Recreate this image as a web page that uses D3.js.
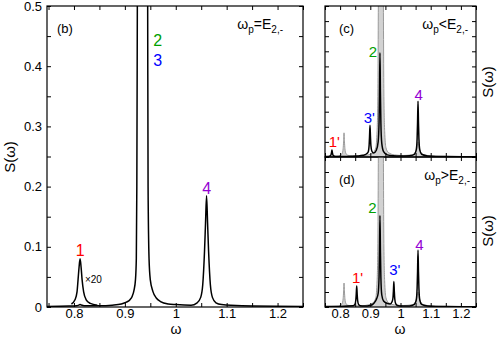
<!DOCTYPE html>
<html>
<head>
<meta charset="utf-8">
<script src="https://cdn.jsdelivr.net/npm/d3@7"></script>
<style>
  body { margin: 0; background: #fff; }
  text { font-family: "Liberation Sans", Arial, sans-serif; }
</style>
</head>
<body>
<div id="chart-area"></div>
<script>
// spectra: [omega, S]
var bMain = [[0.747,0.001],[0.79,0.0015],[0.805,0.002],[0.8105,0.0035],[0.812,0.004],[0.8135,0.0035],
  [0.82,0.002],[0.85,0.002],[0.875,0.003],[0.893,0.005],[0.903,0.008],[0.910,0.012],[0.9145,0.018],
  [0.918,0.028],[0.9208,0.045],[0.9225,0.08],[0.9235,0.2],[0.9245,0.5],[0.9255,0.8],[0.935,1.5],
  [0.944,0.8],[0.9448,0.5],[0.9456,0.2],[0.9475,0.08],[0.950,0.045],[0.955,0.026],[0.9617,0.015],
  [0.970,0.009],[0.985,0.005],[1.00,0.004],[1.03,0.003],[1.042,0.007],[1.049,0.016],[1.053,0.037],
  [1.0565,0.0925],[1.0585,0.14],[1.0605,0.185],[1.0625,0.14],[1.0645,0.0925],[1.068,0.037],
  [1.072,0.016],[1.079,0.007],[1.09,0.004],[1.13,0.002],[1.25,0.001]];
var bX20 = [[0.795,0.005],[0.802,0.012],[0.806,0.025],[0.808,0.045],[0.810,0.066],[0.812,0.08],
  [0.814,0.066],[0.816,0.045],[0.819,0.025],[0.824,0.012],[0.832,0.006],[0.846,0.003]];
var cBlack = [[0.75,0.003],[0.761,0.004],[0.767,0.007],[0.770,0.015],[0.7715,0.029],[0.773,0.046],
  [0.7745,0.029],[0.776,0.015],[0.779,0.007],[0.785,0.004],[0.82,0.004],[0.86,0.007],[0.875,0.011],
  [0.887,0.02],[0.893,0.033],[0.896,0.075],[0.8975,0.135],[0.899,0.21],[0.9005,0.135],[0.902,0.075],
  [0.905,0.04],[0.911,0.026],[0.920,0.045],[0.926,0.1],[0.929,0.23],[0.9305,0.43],[0.932,0.69],
  [0.9335,0.43],[0.935,0.23],[0.938,0.09],[0.944,0.035],[0.956,0.014],[0.975,0.008],[1.0,0.006],
  [1.03,0.008],[1.046,0.018],[1.052,0.045],[1.055,0.12],[1.0565,0.23],[1.058,0.37],[1.0595,0.23],
  [1.061,0.12],[1.064,0.045],[1.07,0.018],[1.09,0.007],[1.15,0.003],[1.25,0.002]];
var dBlack = [[0.75,0.003],[0.80,0.004],[0.843,0.008],[0.849,0.018],[0.852,0.045],[0.8535,0.087],
  [0.855,0.14],[0.8565,0.087],[0.858,0.045],[0.861,0.018],[0.867,0.008],[0.88,0.006],[0.90,0.01],
  [0.912,0.025],[0.920,0.05],[0.926,0.09],[0.929,0.2],[0.9305,0.38],[0.932,0.61],[0.9335,0.38],
  [0.935,0.2],[0.938,0.08],[0.944,0.04],[0.955,0.025],[0.966,0.02],[0.972,0.035],[0.975,0.06],
  [0.9765,0.105],[0.978,0.17],[0.9795,0.105],[0.981,0.055],[0.984,0.022],[0.99,0.01],[1.005,0.006],
  [1.03,0.007],[1.046,0.018],[1.052,0.045],[1.055,0.125],[1.0565,0.235],[1.058,0.38],[1.0595,0.235],
  [1.061,0.125],[1.064,0.045],[1.07,0.018],[1.09,0.007],[1.15,0.003],[1.25,0.002]];
var greyRef = [[0.75,0.003],[0.79,0.006],[0.801,0.012],[0.807,0.025],[0.810,0.055],[0.8115,0.1],
  [0.813,0.16],[0.8145,0.1],[0.816,0.055],[0.819,0.025],[0.825,0.012],[0.84,0.007],[0.87,0.008],
  [0.895,0.015],[0.91,0.03],[0.918,0.06],[0.922,0.15],[0.925,0.4],[0.927,1.2],[0.930,3],[0.940,3],
  [0.943,1.2],[0.945,0.4],[0.948,0.15],[0.952,0.06],[0.96,0.03],[0.98,0.014],[1.01,0.01],
  [1.04,0.016],[1.05,0.035],[1.055,0.07],[1.058,0.1],[1.061,0.07],[1.066,0.035],[1.076,0.016],
  [1.10,0.008],[1.15,0.004],[1.25,0.002]];

// ticks
var xTicks = [0.75,0.8,0.85,0.9,0.95,1,1.05,1.1,1.15,1.2,1.25];
var xLabels = [0.8,0.9,1,1.1,1.2];
var yTicksB = [0,0.05,0.1,0.15,0.2,0.25,0.3,0.35,0.4,0.45,0.5];
var yLabelsB = [0,0.1,0.2,0.3,0.4,0.5];
var yTicksCD = [0,0.1,0.2,0.3,0.4,0.5,0.6,0.7,0.8,0.9,1];

// peak labels [text, omega, S, colour]
var labelsB = [["1",0.812,0.085,"#ff0000"],["2",0.9645,0.434,"#00a000"],["3",0.9645,0.4,"#0000ff"],["4",1.061,0.188,"#9400d3"]];
var labelsC = [["1'",0.781,0.066,"#ff0000"],["3'",0.897,0.225,"#0000ff"],["2",0.909,0.662,"#00a000"],["4",1.06,0.377,"#9400d3"]];
var labelsD = [["1'",0.858,0.16,"#ff0000"],["2",0.907,0.627,"#00a000"],["3'",0.981,0.213,"#0000ff"],["4",1.063,0.38,"#9400d3"]];

var width = 498, height = 337;

var svg = d3.select("#chart-area")
  .append("svg")
  .attr("width", width)
  .attr("height", height);

function panel(p) {
  var x = d3.scaleLinear().domain(p.xd).range([p.left, p.right]);
  var y = d3.scaleLinear().domain(p.yd).range([p.bottom, p.top]);

  svg.append("clipPath").attr("id", "clip-" + p.id)
    .append("rect")
    .attr("x", p.left).attr("y", p.top)
    .attr("width", p.right - p.left).attr("height", p.bottom - p.top);

  var g = svg.append("g").attr("clip-path", "url(#clip-" + p.id + ")");
  var line = d3.line().x(d => x(d[0])).y(d => y(d[1])).curve(d3.curveMonotoneX);
  var area = d3.area().x(d => x(d[0])).y0(y(0)).y1(d => y(d[1])).curve(d3.curveMonotoneX);

  if (p.grey) {
    g.append("path").datum(p.grey).attr("d", area).attr("fill", "#d2d2d2");
    g.append("path").datum(p.grey).attr("d", line)
      .attr("fill", "none").attr("stroke", "#9a9a9a").attr("stroke-width", 1);
  }
  p.black.forEach(s => {
    g.append("path").datum(s).attr("d", line)
      .attr("fill", "none").attr("stroke", "#000").attr("stroke-width", 1.5);
  });

  var fmtX = d => p.xlab && xLabels.indexOf(d) >= 0 ? String(d) : "";
  var fmtY = d => p.ylab && p.ylab.indexOf(d) >= 0 ? String(d) : "";

  svg.append("g").attr("transform", "translate(0," + p.bottom + ")")
    .call(d3.axisBottom(x).tickValues(xTicks).tickSizeInner(-4).tickSizeOuter(0).tickPadding(2).tickFormat(fmtX));
  svg.append("g").attr("transform", "translate(0," + p.top + ")")
    .call(d3.axisTop(x).tickValues(xTicks).tickSizeInner(-4).tickSizeOuter(0).tickFormat(""));
  svg.append("g").attr("transform", "translate(" + p.left + ",0)")
    .call(d3.axisLeft(y).tickValues(p.yt).tickSizeInner(-4).tickSizeOuter(0).tickPadding(5).tickFormat(fmtY));
  svg.append("g").attr("transform", "translate(" + p.right + ",0)")
    .call(d3.axisRight(y).tickValues(p.yt).tickSizeInner(-4).tickSizeOuter(0).tickFormat(""));

  svg.selectAll(".domain").remove();
  svg.selectAll(".tick text").attr("font-size", "13px").attr("font-family", "Liberation Sans, Arial, sans-serif");

  svg.append("rect")
    .attr("x", p.left).attr("y", p.top)
    .attr("width", p.right - p.left).attr("height", p.bottom - p.top)
    .attr("fill", "none").attr("stroke", "#000").attr("stroke-width", 1.2);

  svg.append("text")
    .attr("x", p.left + p.tagdx).attr("y", p.top + 27)
    .attr("font-size", "13px")
    .text(p.tag);

  var t = svg.append("text")
    .attr("x", p.right - p.condx).attr("y", p.top + 23)
    .attr("text-anchor", "end")
    .attr("font-size", "14px");
  t.append("tspan").text("\u03c9");
  t.append("tspan").attr("dy", 4).attr("font-size", "10px").text("p");
  t.append("tspan").attr("dy", -4).text(p.rel + "E");
  t.append("tspan").attr("dy", 4).attr("font-size", "10px").text("2,-");

  p.labels.forEach(l => {
    svg.append("text")
      .attr("x", x(l[1])).attr("y", y(l[2]))
      .attr("text-anchor", "middle")
      .attr("font-size", p.lfs)
      .attr("fill", l[3])
      .text(l[0]);
  });
  return { x: x, y: y };
}

var b = panel({ id: "b", left: 47, right: 303, top: 6, bottom: 307, xd: [0.747, 1.25], yd: [0, 0.5],
  yt: yTicksB, ylab: yLabelsB, xlab: true, black: [bMain, bX20], labels: labelsB,
  tag: "(b)", tagdx: 10, rel: "=", condx: 20, lfs: "16px" });

svg.append("text")
  .attr("x", b.x(0.8215)).attr("y", b.y(0.04))
  .attr("font-size", "10px")
  .text("\u00d720");

var c = panel({ id: "c", left: 325, right: 476, top: 6, bottom: 157, xd: [0.75, 1.25], yd: [0, 1],
  yt: yTicksCD, ylab: null, xlab: false, grey: greyRef, black: [cBlack], labels: labelsC,
  tag: "(c)", tagdx: 14, rel: "<", condx: 8, lfs: "15px" });

var d = panel({ id: "d", left: 325, right: 476, top: 157, bottom: 307, xd: [0.75, 1.25], yd: [0, 1],
  yt: yTicksCD, ylab: null, xlab: true, grey: greyRef, black: [dBlack], labels: labelsD,
  tag: "(d)", tagdx: 14, rel: ">", condx: 6, lfs: "15px" });

// axis titles
svg.append("text")
  .attr("x", -157).attr("y", 15)
  .attr("transform", "rotate(-90)")
  .attr("text-anchor", "middle")
  .attr("font-size", "15px")
  .text("S(\u03c9)");

svg.append("text")
  .attr("x", -82).attr("y", 493)
  .attr("transform", "rotate(-90)")
  .attr("text-anchor", "middle")
  .attr("font-size", "15px")
  .text("S(\u03c9)");

svg.append("text")
  .attr("x", -231).attr("y", 493)
  .attr("transform", "rotate(-90)")
  .attr("text-anchor", "middle")
  .attr("font-size", "15px")
  .text("S(\u03c9)");

svg.append("text")
  .attr("x", 176).attr("y", 334)
  .attr("text-anchor", "middle")
  .attr("font-size", "14px")
  .text("\u03c9");

svg.append("text")
  .attr("x", 400).attr("y", 334)
  .attr("text-anchor", "middle")
  .attr("font-size", "14px")
  .text("\u03c9");
</script>
</body>
</html>
